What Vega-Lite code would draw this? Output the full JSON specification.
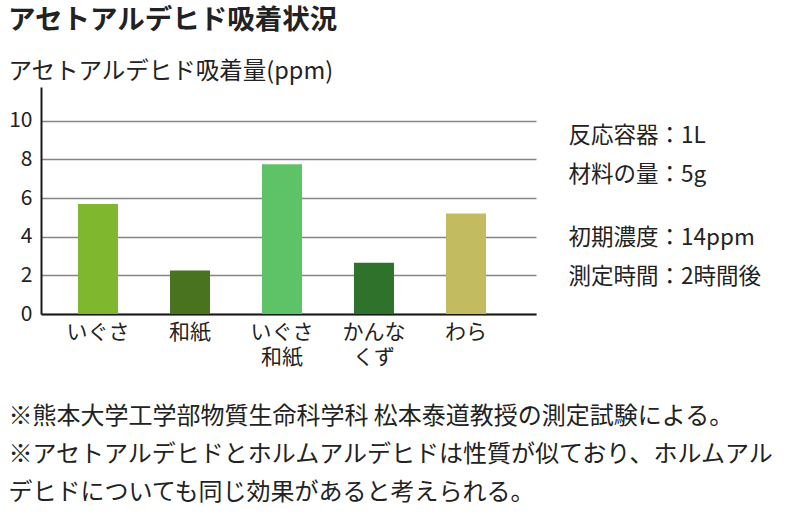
{
  "$schema": "https://vega.github.io/schema/vega-lite/v6.json",
  "width": 495,
  "height": 227,
  "autosize": "none",
  "padding": {"left": 41, "top": 87, "right": 252, "bottom": 214},
  "background": "white",
  "title": {
    "text": "アセトアルデヒド吸着状況",
    "anchor": "start",
    "frame": "group",
    "font": "Noto Sans CJK JP",
    "fontSize": 27.5,
    "fontWeight": "bold",
    "color": "#222222",
    "dx": -33,
    "dy": -21
  },
  "data": {
    "values": [
      {"name": "いぐさ", "value": 5.7},
      {"name": "和紙", "value": 2.25},
      {"name": "いぐさ和紙", "value": 7.75},
      {"name": "かんなくず", "value": 2.65},
      {"name": "わら", "value": 5.2}
    ]
  },
  "layer": [
    {
      "mark": {"type": "bar"},
      "encoding": {
        "x": {
          "field": "name",
          "type": "nominal",
          "sort": null,
          "scale": {"paddingInner": 0.565, "paddingOuter": 0.4728, "align": 0.425},
          "axis": {
            "orient": "bottom",
            "domain": true,
            "domainColor": "#1a1a1a",
            "domainWidth": 2,
            "ticks": false,
            "labelAngle": 0,
            "labelFont": "Noto Sans CJK JP",
            "labelFontSize": 21,
            "labelColor": "#222222",
            "labelPadding": 7,
            "labelLineHeight": 25,
            "labelBaseline": "top",
            "labelExpr": "datum.value == 'いぐさ和紙' ? ['いぐさ','和紙'] : datum.value == 'かんなくず' ? ['かんな','くず'] : datum.label",
            "title": [
              "※熊本大学工学部物質生命科学科 松本泰道教授の測定試験による。",
              "※アセトアルデヒドとホルムアルデヒドは性質が似ており、ホルムアル",
              "デヒドについても同じ効果があると考えられる。"
            ],
            "titleFont": "Noto Sans CJK JP",
            "titleFontSize": 24,
            "titleFontWeight": "normal",
            "titleColor": "#222222",
            "titleAlign": "left",
            "titleAnchor": "start",
            "titleBaseline": "top",
            "titleLineHeight": 38,
            "titleX": -33,
            "titleY": 90
          }
        },
        "y": {
          "field": "value",
          "type": "quantitative",
          "scale": {"domain": [0, 11.75], "nice": false},
          "axis": {
            "orient": "left",
            "values": [0, 2, 4, 6, 8, 10],
            "domain": true,
            "domainColor": "#1a1a1a",
            "domainWidth": 2,
            "ticks": false,
            "grid": true,
            "gridColor": "#858585",
            "gridWidth": 1.5,
            "labelFont": "Noto Sans CJK JP",
            "labelFontSize": 21,
            "labelColor": "#222222",
            "labelPadding": 9,
            "title": "アセトアルデヒド吸着量(ppm)",
            "titleFont": "Noto Sans CJK JP",
            "titleFontSize": 23.5,
            "titleFontWeight": "normal",
            "titleColor": "#222222",
            "titleAngle": 0,
            "titleAlign": "left",
            "titleAnchor": "start",
            "titleBaseline": "middle",
            "titleX": -33,
            "titleY": -16
          }
        },
        "color": {
          "field": "name",
          "type": "nominal",
          "scale": {
            "domain": ["いぐさ", "和紙", "いぐさ和紙", "かんなくず", "わら"],
            "range": ["#7fb82f", "#4a731f", "#5ec366", "#2f722b", "#c3bb5f"]
          },
          "legend": null
        }
      }
    },
    {
      "mark": {"type": "point", "opacity": 0},
      "encoding": {
        "x": {
          "field": "name",
          "type": "nominal",
          "sort": null,
          "axis": {
            "orient": "top",
            "domain": false,
            "ticks": false,
            "labels": false,
            "grid": false,
            "title": ["初期濃度：14ppm", "測定時間：2時間後"],
            "titleFont": "Noto Sans CJK JP",
            "titleFontSize": 22.5,
            "titleFontWeight": "normal",
            "titleColor": "#222222",
            "titleAlign": "left",
            "titleAnchor": "start",
            "titleBaseline": "top",
            "titleLineHeight": 39,
            "titleX": 527,
            "titleY": 139
          }
        },
        "y": {
          "field": "value",
          "type": "quantitative",
          "axis": {
            "orient": "right",
            "domain": false,
            "ticks": false,
            "labels": false,
            "grid": false,
            "title": ["反応容器：1L", "材料の量：5g"],
            "titleFont": "Noto Sans CJK JP",
            "titleFontSize": 22.5,
            "titleFontWeight": "normal",
            "titleColor": "#222222",
            "titleAngle": 0,
            "titleAlign": "left",
            "titleAnchor": "start",
            "titleBaseline": "top",
            "titleLineHeight": 39,
            "titleX": 32,
            "titleY": 37
          }
        }
      }
    }
  ],
  "resolve": {
    "scale": {"x": "independent", "y": "independent", "color": "independent"},
    "axis": {"x": "independent", "y": "independent"}
  },
  "config": {
    "view": {"stroke": null},
    "font": "Noto Sans CJK JP"
  }
}
